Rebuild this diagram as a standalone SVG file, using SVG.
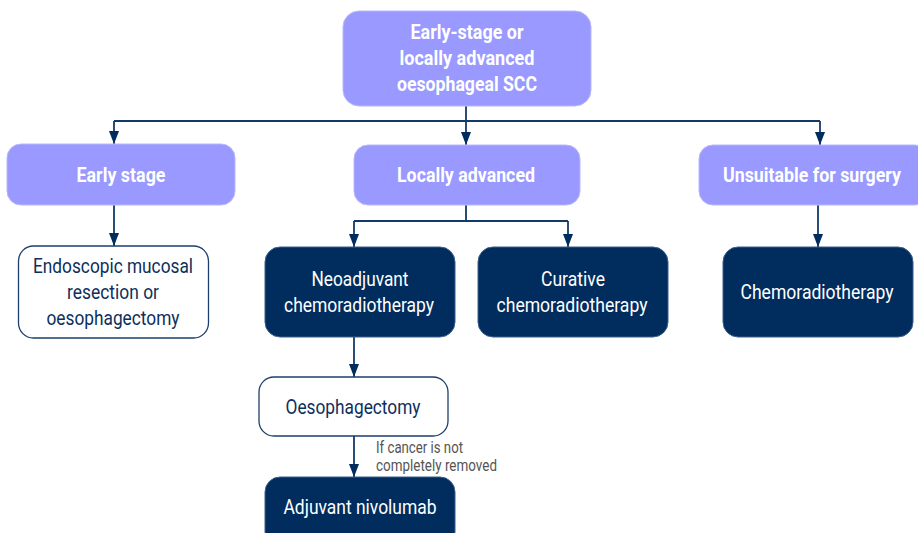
<svg xmlns="http://www.w3.org/2000/svg" width="918" height="533" viewBox="0 0 918 533">
<style>
.lt{fill:#9999ff;stroke:#b8b8ff;stroke-width:1}
.dk{fill:#002d5e;stroke:#3d5f8a;stroke-width:1}
.wh{fill:#ffffff;stroke:#1d3f6b;stroke-width:1.3}
.tb{font-family:Roboto,"Liberation Sans",sans-serif;font-weight:bold;font-size:20px;fill:#ffffff;text-anchor:middle}
.tw{font-family:Roboto,"Liberation Sans",sans-serif;font-size:20px;fill:#ffffff;text-anchor:middle}
.tn{font-family:Roboto,"Liberation Sans",sans-serif;font-size:20px;fill:#0d2f5c;text-anchor:middle}
.lab{font-family:Roboto,"Liberation Sans",sans-serif;font-size:16.5px;fill:#555555}
.c{fill:none;stroke:#123a66;stroke-width:1.8}
</style>
<defs>
<marker id="ad" markerUnits="userSpaceOnUse" markerWidth="12" markerHeight="14" viewBox="0 0 12 14" refX="6" refY="13" orient="0">
<path d="M1,0 L11,0 L6,13 Z" fill="#002d5e"/>
</marker>
</defs>
<g id="connectors">
<path class="c" d="M466,106 V121"/>
<path class="c" d="M114,121 H820"/>
<path class="c" d="M114,121 V144" marker-end="url(#ad)"/>
<path class="c" d="M466,121 V145" marker-end="url(#ad)"/>
<path class="c" d="M820,121 V145" marker-end="url(#ad)"/>
<path class="c" d="M114,205 V246" marker-end="url(#ad)"/>
<path class="c" d="M466,205 V221 M354,221 H568"/>
<path class="c" d="M354,221 V247" marker-end="url(#ad)"/>
<path class="c" d="M568,221 V247" marker-end="url(#ad)"/>
<path class="c" d="M818,205 V247" marker-end="url(#ad)"/>
<path class="c" d="M354,337 V377" marker-end="url(#ad)"/>
<path class="c" d="M354,436 V477" marker-end="url(#ad)"/>
<text class="lab" x="376" y="453" textLength="87" lengthAdjust="spacingAndGlyphs">If cancer is not</text>
<text class="lab" x="376" y="471" textLength="121" lengthAdjust="spacingAndGlyphs">completely removed</text>
</g>
<g id="root">
<rect class="lt" x="343" y="11" width="248" height="95" rx="16"/>
<text class="tb" x="467" y="39" textLength="113" lengthAdjust="spacingAndGlyphs">Early-stage or</text>
<text class="tb" x="467" y="65" textLength="135" lengthAdjust="spacingAndGlyphs">locally advanced</text>
<text class="tb" x="467" y="91" textLength="140" lengthAdjust="spacingAndGlyphs">oesophageal SCC</text>
</g>
<g id="early">
<rect class="lt" x="7" y="144" width="228" height="61" rx="14"/>
<text class="tb" x="121" y="182" textLength="89" lengthAdjust="spacingAndGlyphs">Early stage</text>
</g>
<g id="locally">
<rect class="lt" x="354" y="145" width="226" height="60" rx="14"/>
<text class="tb" x="466" y="182" textLength="138" lengthAdjust="spacingAndGlyphs">Locally advanced</text>
</g>
<g id="unsuitable">
<rect class="lt" x="699" y="145" width="230" height="60" rx="14"/>
<text class="tb" x="812" y="182" textLength="178" lengthAdjust="spacingAndGlyphs">Unsuitable for surgery</text>
</g>
<g id="endoscopic">
<rect class="wh" x="18.5" y="246" width="190" height="92" rx="15"/>
<text class="tn" x="113" y="273" textLength="160" lengthAdjust="spacingAndGlyphs">Endoscopic mucosal</text>
<text class="tn" x="113" y="299" textLength="92" lengthAdjust="spacingAndGlyphs">resection or</text>
<text class="tn" x="113" y="325" textLength="133" lengthAdjust="spacingAndGlyphs">oesophagectomy</text>
</g>
<g id="neoadjuvant">
<rect class="dk" x="265" y="247" width="190" height="90" rx="15"/>
<text class="tw" x="360" y="286" textLength="97" lengthAdjust="spacingAndGlyphs">Neoadjuvant</text>
<text class="tw" x="359" y="312" textLength="150" lengthAdjust="spacingAndGlyphs">chemoradiotherapy</text>
</g>
<g id="curative">
<rect class="dk" x="478" y="247" width="190" height="90" rx="15"/>
<text class="tw" x="573" y="286" textLength="64" lengthAdjust="spacingAndGlyphs">Curative</text>
<text class="tw" x="572" y="312" textLength="151" lengthAdjust="spacingAndGlyphs">chemoradiotherapy</text>
</g>
<g id="chemoradiotherapy">
<rect class="dk" x="723" y="247" width="190" height="90" rx="15"/>
<text class="tw" x="817" y="299" textLength="153" lengthAdjust="spacingAndGlyphs">Chemoradiotherapy</text>
</g>
<g id="oesophagectomy">
<rect class="wh" x="259" y="377" width="189" height="59" rx="15"/>
<text class="tn" x="353" y="414" textLength="135" lengthAdjust="spacingAndGlyphs">Oesophagectomy</text>
</g>
<g id="adjuvant">
<rect class="dk" x="265" y="477" width="190" height="70" rx="15"/>
<text class="tw" x="360" y="514" textLength="153" lengthAdjust="spacingAndGlyphs">Adjuvant nivolumab</text>
</g>
</svg>
